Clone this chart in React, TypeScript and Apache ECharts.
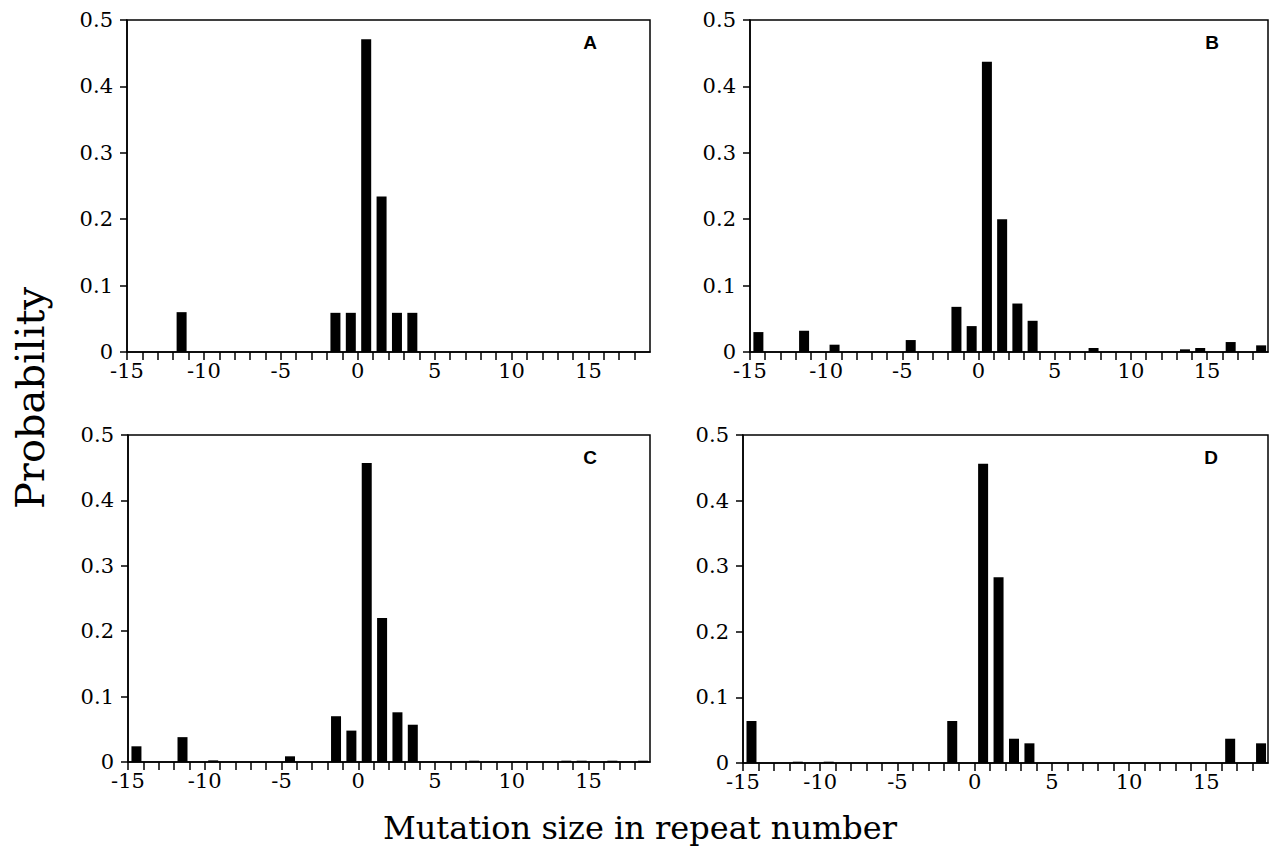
import React, { useEffect, useRef } from "react";
import * as echarts from "echarts";

// Bin left edges (mutation size bins) and probabilities for each panel
const binsA = [-12, -2, -1, 0, 1, 2, 3];
const valsA = [0.06, 0.059, 0.059, 0.471, 0.234, 0.059, 0.059];

const binsB = [-15, -12, -10, -5, -2, -1, 0, 1, 2, 3, 7, 13, 14, 16, 18];
const valsB = [0.03, 0.032, 0.011, 0.018, 0.068, 0.039, 0.437, 0.2, 0.073, 0.047, 0.006, 0.004, 0.006, 0.015, 0.01];

const binsC = [-15, -12, -10, -5, -2, -1, 0, 1, 2, 3, 7, 13, 14, 16, 18];
const valsC = [0.024, 0.038, 0.0025, 0.0087, 0.07, 0.048, 0.457, 0.22, 0.076, 0.057, 0.002, 0.002, 0.002, 0.002, 0.002];

const binsD = [-15, -12, -10, -2, 0, 1, 2, 3, 16, 18];
const valsD = [0.064, 0.002, 0.002, 0.064, 0.456, 0.283, 0.037, 0.03, 0.037, 0.03];

const panelLetters = ["A", "B", "C", "D"];
const yTickLabels = ["0", "0.1", "0.2", "0.3", "0.4", "0.5"];
const xLabelValues = [-15, -10, -5, 0, 5, 10, 15];

const X_MIN = -15;
const X_MAX = 19;
const BAR_OFFSET = 0.55;
const SERIF = "'DejaVu Serif', 'Liberation Serif', serif";

export default function App() {
  const ref = useRef<HTMLDivElement>(null);
  useEffect(() => {
    if (!ref.current) return;
    const chart = echarts.init(ref.current, null, { renderer: "svg" });
    const grids = [
      { left: 127, top: 20, width: 523, height: 332 },
      { left: 750, top: 20, width: 518, height: 332 },
      { left: 128, top: 435, width: 522, height: 327 },
      { left: 743, top: 435, width: 525, height: 328 },
    ].map((g) => ({ ...g, show: true, borderColor: "#000", borderWidth: 1.5, containLabel: false }));

    const panels = [
      [binsA, valsA],
      [binsB, valsB],
      [binsC, valsC],
      [binsD, valsD],
    ];

    const xAxes = grids.map((_, i) => ({
      type: "value",
      gridIndex: i,
      min: X_MIN,
      max: X_MAX,
      interval: 1,
      axisLine: { show: true, onZero: false, lineStyle: { color: "#000", width: 1.5 } },
      axisTick: { show: true, inside: false, length: 8, lineStyle: { color: "#000", width: 1.5 } },
      splitLine: { show: false },
      axisLabel: {
        color: "#000",
        fontFamily: SERIF,
        fontSize: 21,
        lineHeight: 18,
        margin: 10,
        showMinLabel: true,
        showMaxLabel: false,
        formatter: (v: number) => (xLabelValues.includes(v) ? String(v) : ""),
      },
    }));

    const yAxes = grids.map((_, i) => ({
      type: "value",
      gridIndex: i,
      min: 0,
      max: 0.5,
      interval: 0.1,
      axisLine: { show: true, onZero: false, lineStyle: { color: "#000", width: 1.5 } },
      axisTick: { show: true, inside: false, length: 7, lineStyle: { color: "#000", width: 1.5 } },
      splitLine: { show: false },
      axisLabel: {
        color: "#000",
        fontFamily: SERIF,
        fontSize: 21,
        lineHeight: 17,
        margin: 14,
        formatter: (v: number) => yTickLabels[Math.round(v * 10)] ?? "",
      },
    }));

    const series = panels.map(([bins, vals], i) => ({
      type: "bar",
      xAxisIndex: i,
      yAxisIndex: i,
      barWidth: 10,
      itemStyle: { color: "#000" },
      data: (bins as number[]).map((b, j) => [b + BAR_OFFSET, (vals as number[])[j]]),
    }));

    const letterPos = [
      [590, 42],
      [1212, 42],
      [590, 457],
      [1211, 457],
    ];

    chart.setOption({
      animation: false,
      backgroundColor: "#fff",
      grid: grids,
      xAxis: xAxes,
      yAxis: yAxes,
      series,
      graphic: [
        ...panelLetters.map((t, i) => ({
          type: "text",
          x: letterPos[i][0],
          y: letterPos[i][1],
          style: {
            text: t,
            fill: "#000",
            font: "bold 19px 'Liberation Sans', Arial, sans-serif",
            align: "center",
            verticalAlign: "middle",
          },
        })),
        {
          type: "text",
          x: 30,
          y: 398,
          rotation: Math.PI / 2,
          style: {
            text: "Probability",
            fill: "#000",
            font: `40px ${SERIF}`,
            align: "center",
            verticalAlign: "middle",
          },
        },
        {
          type: "text",
          x: 640,
          y: 828,
          style: {
            text: "Mutation size in repeat number",
            fill: "#000",
            font: `32px ${SERIF}`,
            align: "center",
            verticalAlign: "middle",
          },
        },
      ],
    });
    return () => chart.dispose();
  }, []);
  return (
    <div
      ref={ref}
      style={{ position: "absolute", left: 0, top: 0, width: 1283, height: 855 }}
    />
  );
}
